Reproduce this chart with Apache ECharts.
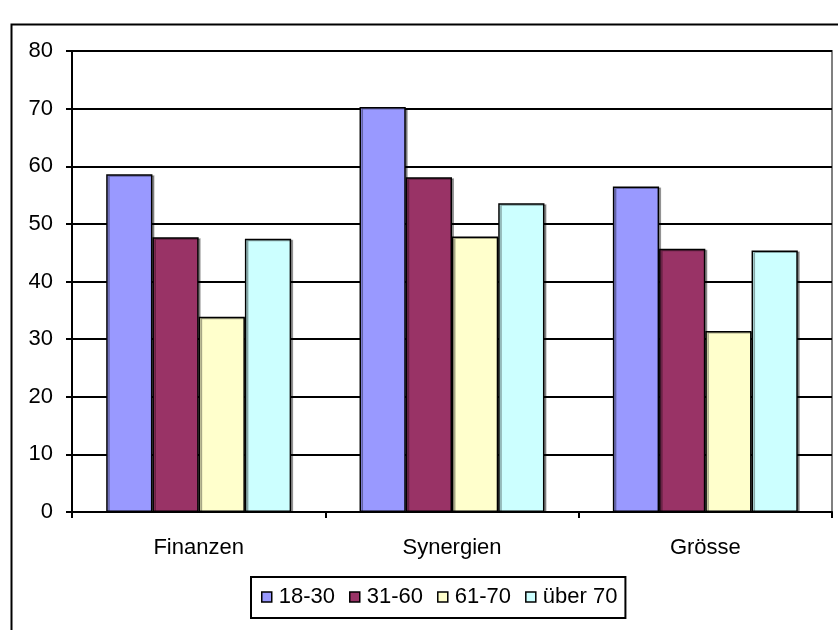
<!DOCTYPE html>
<html>
<head>
<meta charset="utf-8">
<script src="https://cdn.jsdelivr.net/npm/echarts@6/dist/echarts.min.js"></script>
<style>html,body{margin:0;padding:0;background:#fff}#c{width:838px;height:630px}</style>
</head>
<body>
<div id="c"></div>
<script>
const categories = ['Finanzen', 'Synergien', 'Grösse'];
const seriesNames = ['18-30', '31-60', '61-70', 'über 70'];
const v1830 = [58.6, 70.3, 56.5];
const v3160 = [47.7, 58.1, 45.7];
const v6170 = [33.9, 47.8, 31.4];
const vUeber70 = [47.4, 53.6, 45.4];
const yTicks = [0, 10, 20, 30, 40, 50, 60, 70, 80];
const colors = ['#9999FF', '#993366', '#FFFFCC', '#CCFFFF'];
const values = [v1830, v3160, v6170, vUeber70];

const font = "'Liberation Sans', Arial, sans-serif";
const chart = echarts.init(document.getElementById('c'), null, {renderer: 'canvas'});
chart.setOption({
  animation: false,
  backgroundColor: '#fff',
  textStyle: {fontFamily: font},
  graphic: [{
    type: 'rect', left: 9, top: 22, z: 100,
    shape: {width: 850, height: 640},
    style: {fill: 'none', stroke: '#000', lineWidth: 2}
  }],
  grid: {left: 72, right: 6, top: 51, bottom: 118, show: true, borderColor: '#808080', borderWidth: 2, backgroundColor: 'transparent'},
  legend: {
    left: 251, top: 577,
    data: seriesNames,
    icon: 'rect',
    itemWidth: 10, itemHeight: 10, itemGap: 14,
    borderColor: '#000', borderWidth: 2,
    padding: [9, 8, 10, 10],
    textStyle: {fontSize: 22, color: '#000', fontFamily: font, padding: [0, 0, 0, 2]},
    itemStyle: {borderColor: '#000', borderWidth: 1.5}
  },
  xAxis: {
    type: 'category', data: categories,
    axisLine: {lineStyle: {color: '#000', width: 2}},
    axisTick: {show: true, length: 6, alignWithLabel: false, lineStyle: {color: '#000', width: 2}},
    axisLabel: {fontSize: 22, color: '#000', margin: 25, fontFamily: font},
    splitLine: {show: false}
  },
  yAxis: {
    type: 'value', min: 0, max: 80, interval: 10,
    axisLine: {show: true, lineStyle: {color: '#000', width: 2}},
    axisTick: {show: true, length: 6, lineStyle: {color: '#000', width: 2}},
    axisLabel: {fontSize: 22, color: '#000', margin: 19, fontFamily: font,
      formatter: function (v) { return yTicks.indexOf(v) >= 0 ? String(v) : ''; }},
    splitLine: {show: true, lineStyle: {color: '#000', width: 2}}
  },
  series: seriesNames.map((name, i) => ({
    name: name, type: 'bar', data: values[i],
    barGap: '0%', barCategoryGap: '27%',
    itemStyle: {color: colors[i], borderColor: '#000', borderWidth: 1.5,
      shadowColor: 'rgba(0,0,0,0.35)', shadowOffsetX: 2, shadowOffsetY: 1, shadowBlur: 0}
  }))
});
</script>
</body>
</html>
